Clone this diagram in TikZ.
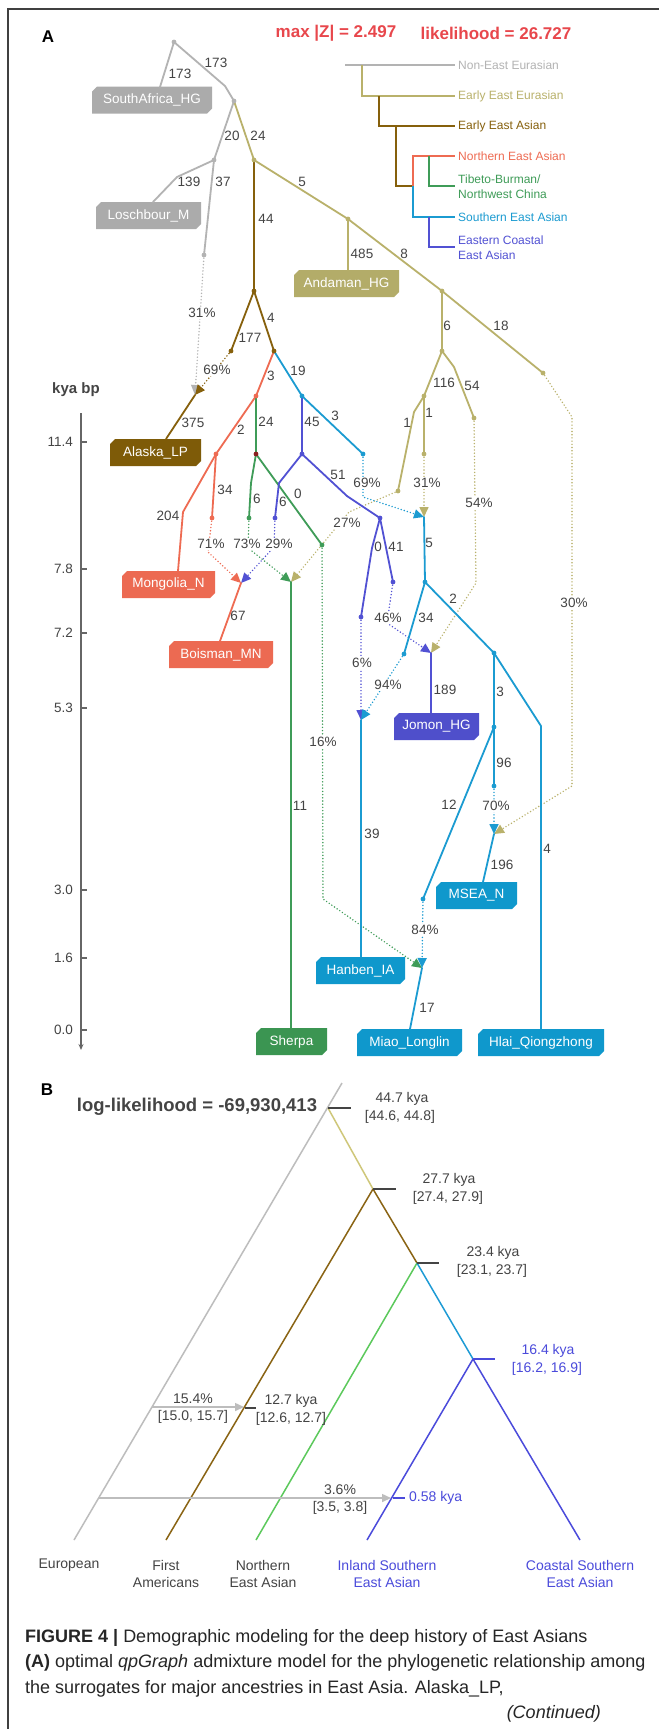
\documentclass[tikz,border=0pt]{standalone}
\usepackage{fontspec}
\setmainfont{Liberation Sans}
\usetikzlibrary{arrows.meta,calc}
\definecolor{cgray}{HTML}{B3B3B3}
\definecolor{ckhaki}{HTML}{B9B16B}
\definecolor{cbrown}{HTML}{86600C}
\definecolor{cred}{HTML}{EE6B52}
\definecolor{cgreen}{HTML}{3F9C58}
\definecolor{ccyan}{HTML}{1B9BD1}
\definecolor{cindigo}{HTML}{5151D3}
\definecolor{cdark}{HTML}{8B2020}
\definecolor{bgray}{HTML}{ABABAB}
\definecolor{bkhaki}{HTML}{B3AC69}
\definecolor{bbrown}{HTML}{7E5B08}
\definecolor{bred}{HTML}{EC6A52}
\definecolor{bgreen}{HTML}{3B9552}
\definecolor{bcyan}{HTML}{0F98CC}
\definecolor{bindigo}{HTML}{4F4FCB}
\definecolor{txt}{HTML}{444444}
\definecolor{hred}{HTML}{E8474C}
\definecolor{Bgray}{HTML}{BDBDBD}
\definecolor{Bkhaki}{HTML}{CFC77A}
\definecolor{Bbrown}{HTML}{8A6414}
\definecolor{Bgreen}{HTML}{5CC95C}
\definecolor{Bcyan}{HTML}{1E9BD5}
\definecolor{Bindigo}{HTML}{4B4BDB}
\newcommand\popbox[6]{%
  \fill[#5] ({#2-#4/2+5},{#3-13.5}) -- ({#2+#4/2},{#3-13.5}) -- ({#2+#4/2},{#3+8.5}) -- ({#2+#4/2-5},{#3+13.5}) -- ({#2-#4/2},{#3+13.5}) -- ({#2-#4/2},{#3-8.5}) -- cycle;
  \node[boxtxt, minimum width=#4pt] (#1) at (#2,#3) {#6};}
\begin{document}
\begin{tikzpicture}[x=1pt,y=-1pt,
  edg/.style={line width=1.8pt, line join=round, line cap=round},
  adm/.style={draw=#1, line width=1.6pt, line cap=round, dash pattern=on 0pt off 3.2pt, -{Triangle[length=10pt,width=9pt]}},
  wl/.style={font=\fontsize{13.5}{15}\selectfont, text=txt, inner sep=0pt},
  pl/.style={wl, fill=white, inner sep=1pt},
  boxtxt/.style={rectangle, inner sep=0pt, minimum height=27pt, text=white, font=\fontsize{13.5}{15}\selectfont},
  lgl/.style={line width=1.5pt},
  lgt/.style={anchor=west, inner sep=0pt, font=\fontsize{12}{15}\selectfont, align=left},
  axisline/.style={line width=1.2pt, draw=black!60},
  bl/.style={line width=1.5pt},
  tickline/.style={line width=1.3pt, draw=txt},
  bt/.style={font=\fontsize{14}{17}\selectfont, text=txt, inner sep=0pt, align=center},
  barr/.style={draw=Bgray, line width=1.5pt, -{Triangle[length=9pt,width=8pt]}},
  captext/.style={font=\fontsize{18}{22}\selectfont, text=black!85, inner sep=0pt}
]
\fill[white] (0,0) rectangle (659,1729);
\useasboundingbox (0,0) rectangle (659,1729);
\draw[line width=1.3pt, black!75] (8,1729) -- (8,9) -- (659,9);

% ---------------- Panel A header ----------------
\node[font=\fontsize{17}{17}\selectfont\bfseries, inner sep=0pt] (lA) at (48,37) {A};
\node[font=\fontsize{17}{17}\selectfont\bfseries, text=hred, inner sep=0pt] (hz) at (336,33) {max |Z| = 2.497};
\node[font=\fontsize{17}{17}\selectfont\bfseries, text=hred, inner sep=0pt] (hl) at (496,33) {likelihood = 26.727};

% legend
\draw[lgl, cgray] (345,65) -- (455,65);
\draw[lgl, ckhaki] (362,65) -- (362,96) -- (455,96);
\draw[lgl, cbrown] (379,96) -- (379,126) -- (455,126);
\draw[lgl, cbrown] (396,126) -- (396,186) -- (413,186);
\draw[lgl, cred] (413,186) -- (413,156) -- (455,156);
\draw[lgl, cgreen] (429,156) -- (429,186) -- (455,186);
\draw[lgl, ccyan] (413,186) -- (413,217) -- (455,217);
\draw[lgl, cindigo] (429,217) -- (429,247) -- (455,247);
\node[lgt, text=cgray] (lg1) at (458,65) {Non-East Eurasian};
\node[lgt, text=ckhaki] (lg2) at (458,96) {Early East Eurasian};
\node[lgt, text=cbrown] (lg3) at (458,126) {Early East Asian};
\node[lgt, text=cred] (lg4) at (458,156) {Northern East Asian};
\node[lgt, text=cgreen] (lg5) at (458,186.5) {Tibeto-Burman/\\Northwest China};
\node[lgt, text=ccyan] (lg6) at (458,217) {Southern East Asian};
\node[lgt, text=cindigo] (lg7) at (458,247.5) {Eastern Coastal\\East Asian};

% axis
\node[font=\fontsize{15}{15}\selectfont\bfseries, text=txt, inner sep=0pt] (kya) at (76,390) {kya bp};
\draw[axisline, -{Stealth[length=6pt,width=5pt]}] (81,413) -- (81,1050);
\foreach \y/\l in {442/11.4, 569/7.8, 633/7.2, 708/5.3, 890/3.0, 958/1.6, 1030/0.0}{
  \draw[axisline] (81,\y) -- (87,\y);
  \node[wl, anchor=east] (t\y) at (73,\y) {\l};}

% ---------------- coordinates ----------------
\coordinate (r0) at (174,42);
\coordinate (SAt) at (160,87);
\coordinate (gb1) at (225,86);
\coordinate (g1) at (234,101);
\coordinate (g2) at (214,160);
\coordinate (gb2) at (177,177);
\coordinate (LMt) at (153,202);
\coordinate (g3) at (204,255);
\coordinate (k1) at (254,160);
\coordinate (kA) at (348,219);
\coordinate (ANt) at (348,270);
\coordinate (k2) at (442,291);
\coordinate (k3) at (442,351);
\coordinate (k4) at (543,373);
\coordinate (k5) at (424,396);
\coordinate (kb6) at (454,367);
\coordinate (k6) at (474,418);
\coordinate (kb7) at (414,412);
\coordinate (k7) at (398,491);
\coordinate (k8) at (424,454);
\coordinate (b1) at (254,291);
\coordinate (b2) at (231,351);
\coordinate (b3) at (274,351);
\coordinate (aA) at (195,395);
\coordinate (ALt) at (166,439);
\coordinate (r1) at (256,396);
\coordinate (r2) at (216,454);
\coordinate (rb) at (183,512);
\coordinate (MNt) at (178,571);
\coordinate (r3) at (212,518);
\coordinate (aB) at (241,583);
\coordinate (BMt) at (220,641);
\coordinate (n1) at (256,454);
\coordinate (nb2) at (251,483);
\coordinate (n2) at (249,518);
\coordinate (n3) at (322,545);
\coordinate (aS) at (291,582);
\coordinate (SHt) at (291,1028);
\coordinate (c1) at (302,396);
\coordinate (c2) at (363,454);
\coordinate (cA) at (424,517);
\coordinate (c3) at (425,582);
\coordinate (c4) at (404,654);
\coordinate (c5) at (494,653);
\coordinate (aH) at (361,720);
\coordinate (HIt) at (361,957);
\coordinate (c6) at (494,727);
\coordinate (cb) at (541,726);
\coordinate (HQt) at (541,1029);
\coordinate (c7) at (494,786);
\coordinate (c8) at (423,899);
\coordinate (aMS) at (494,834);
\coordinate (MSt) at (483,882);
\coordinate (aM) at (422,968);
\coordinate (MLt) at (410,1029);
\coordinate (i1) at (302,454);
\coordinate (ib2) at (279,483);
\coordinate (i2) at (275,518);
\coordinate (ib3) at (347,496);
\coordinate (i3) at (380,518);
\coordinate (ib4) at (372,548);
\coordinate (i4) at (361,617);
\coordinate (i5) at (393,582);
\coordinate (aJ) at (431,653);
\coordinate (JHt) at (431,713);

% ---------------- boxes ----------------
\popbox{SA}{152}{100}{120}{bgray}{SouthAfrica\_HG}
\popbox{LM}{148.5}{215.5}{105}{bgray}{Loschbour\_M}
\popbox{AN}{346.5}{283.5}{105}{bkhaki}{Andaman\_HG}
\popbox{AL}{155.5}{452.5}{91}{bbrown}{Alaska\_LP}
\popbox{MN}{168.5}{584.5}{93}{bred}{Mongolia\_N}
\popbox{BM}{221}{654.5}{104}{bred}{Boisman\_MN}
\popbox{JH}{436.5}{726.5}{85}{bindigo}{Jomon\_HG}
\popbox{MS}{476.5}{895.5}{81}{bcyan}{MSEA\_N}
\popbox{HI}{360.5}{970.5}{89}{bcyan}{Hanben\_IA}
\popbox{SH}{291.5}{1041.5}{71}{bgreen}{Sherpa}
\popbox{ML}{409.5}{1042.5}{105}{bcyan}{Miao\_Longlin}
\popbox{HQ}{541}{1042.5}{126}{bcyan}{Hlai\_Qiongzhong}

% ---------------- admixture (dotted) ----------------
\draw[adm=cgray] (g3) -- (aA);
\draw[adm=cbrown] (b2) -- (aA);
\draw[adm=cred] (r3) -- (208,552) -- (aB);
\draw[adm=cindigo] (i2) -- (274,547) -- (aB);
\draw[adm=cgreen] (n2) -- (248,548) -- (aS);
\draw[adm=ckhaki] (k7) -- (349,512) -- (aS);
\draw[adm=cgreen] (n3) -- (323,899) -- (aM);
\draw[adm=ccyan] (c2) -- (363,497) -- (cA);
\draw[adm=ckhaki] (k8) -- (cA);
\draw[adm=ckhaki] (k6) -- (476,583) -- (aJ);
\draw[adm=cindigo] (i5) -- (387,623) -- (aJ);
\draw[adm=cindigo] (i4) -- (aH);
\draw[adm=ccyan] (c4) -- (aH);
\draw[adm=ckhaki] (k4) -- (572,417) -- (572,786) -- (aMS);
\draw[adm=ccyan] (c7) -- (aMS);
\draw[adm=ccyan] (c8) -- (aM);

% ---------------- solid edges ----------------
\draw[edg, cgray] (r0) -- (SAt);
\draw[edg, cgray] (r0) -- (gb1) -- (g1);
\draw[edg, cgray] (g1) -- (g2);
\draw[edg, cgray] (g2) -- (gb2) -- (LMt);
\draw[edg, cgray] (g2) -- (g3);
\draw[edg, ckhaki] (g1) -- (k1);
\draw[edg, ckhaki] (k1) -- (kA);
\draw[edg, ckhaki] (kA) -- (ANt);
\draw[edg, ckhaki] (kA) -- (k2);
\draw[edg, ckhaki] (k2) -- (k3);
\draw[edg, ckhaki] (k2) -- (k4);
\draw[edg, ckhaki] (k3) -- (k5);
\draw[edg, ckhaki] (k3) -- (kb6) -- (k6);
\draw[edg, ckhaki] (k5) -- (kb7) -- (k7);
\draw[edg, ckhaki] (k5) -- (k8);
\draw[edg, cbrown] (k1) -- (b1);
\draw[edg, cbrown] (b1) -- (b2);
\draw[edg, cbrown] (b1) -- (b3);
\draw[edg, cbrown] (aA) -- (ALt);
\draw[edg, cred] (b3) -- (r1);
\draw[edg, cred] (r1) -- (r2);
\draw[edg, cred] (r2) -- (rb) -- (MNt);
\draw[edg, cred] (r2) -- (r3);
\draw[edg, cred] (aB) -- (BMt);
\draw[edg, cgreen] (r1) -- (n1);
\draw[edg, cgreen] (n1) -- (nb2) -- (n2);
\draw[edg, cgreen] (n1) -- (n3);
\draw[edg, cgreen] (aS) -- (SHt);
\draw[edg, ccyan] (b3) -- (c1);
\draw[edg, ccyan] (c1) -- (c2);
\draw[edg, ccyan] (cA) -- (c3);
\draw[edg, ccyan] (c3) -- (c4);
\draw[edg, ccyan] (c3) -- (c5);
\draw[edg, ccyan] (aH) -- (HIt);
\draw[edg, ccyan] (c5) -- (c6);
\draw[edg, ccyan] (c5) -- (cb) -- (HQt);
\draw[edg, ccyan] (c6) -- (c7);
\draw[edg, ccyan] (c6) -- (c8);
\draw[edg, ccyan] (aMS) -- (MSt);
\draw[edg, ccyan] (aM) -- (MLt);
\draw[edg, cindigo] (c1) -- (i1);
\draw[edg, cindigo] (i1) -- (ib2) -- (i2);
\draw[edg, cindigo] (i1) -- (ib3) -- (i3);
\draw[edg, cindigo] (i3) -- (ib4) -- (i4);
\draw[edg, cindigo] (i3) -- (i5);
\draw[edg, cindigo] (aJ) -- (JHt);

% dots
\foreach \p in {r0,g1,g2,g3} \fill[cgray] (\p) circle (2.4pt);
\foreach \p in {k1,kA,k2,k3,k4,k5,k6,k7,k8} \fill[ckhaki] (\p) circle (2.4pt);
\foreach \p in {b1,b2,b3} \fill[cbrown] (\p) circle (2.4pt);
\foreach \p in {r1,r2,r3} \fill[cred] (\p) circle (2.4pt);
\fill[cdark] (n1) circle (2.4pt);
\foreach \p in {n2,n3} \fill[cgreen] (\p) circle (2.4pt);
\foreach \p in {c1,c2,c3,c4,c5,c6,c7,c8} \fill[ccyan] (\p) circle (2.4pt);
\foreach \p in {i1,i2,i3,i4,i5} \fill[cindigo] (\p) circle (2.4pt);

% ---------------- weights ----------------
\node[wl] (w1) at (180,74) {173};
\node[wl] (w2) at (216,63) {173};
\node[wl] (w3) at (232,136) {20};
\node[wl] (w4) at (258,136) {24};
\node[wl] (w5) at (189,182) {139};
\node[wl] (w6) at (223,182) {37};
\node[wl] (w7) at (302,182) {5};
\node[wl] (w8) at (362,254) {485};
\node[wl] (w9) at (404,254) {8};
\node[wl] (w10) at (447,326) {6};
\node[wl] (w11) at (501,326) {18};
\node[wl] (w12) at (444,383) {116};
\node[wl] (w13) at (472,386) {54};
\node[wl] (w14) at (407,423) {1};
\node[wl] (w15) at (429,413) {1};
\node[wl] (w16) at (266,219) {44};
\node[wl] (w17) at (250,338) {177};
\node[wl] (w18) at (271,318) {4};
\node[wl] (w19) at (193,423) {375};
\node[wl] (w20) at (271,376) {3};
\node[wl] (w21) at (241,430) {2};
\node[wl] (w22) at (168,516) {204};
\node[wl] (w23) at (225,490) {34};
\node[wl] (w24) at (238,616) {67};
\node[wl] (w25) at (266,422) {24};
\node[wl] (w26) at (257,499) {6};
\node[wl] (w27) at (298,494) {0};
\node[wl] (w28) at (300,806) {11};
\node[wl] (w29) at (298,371) {19};
\node[wl] (w30) at (335,416) {3};
\node[wl] (w31) at (429,543) {5};
\node[wl] (w32) at (426,618) {34};
\node[wl] (w33) at (453,599) {2};
\node[wl] (w34) at (372,834) {39};
\node[wl] (w35) at (500,692) {3};
\node[wl] (w36) at (547,849) {4};
\node[wl] (w37) at (504,763) {96};
\node[wl] (w38) at (449,805) {12};
\node[wl] (w39) at (502,865) {196};
\node[wl] (w40) at (427,1008) {17};
\node[wl] (w41) at (312,422) {45};
\node[wl] (w42) at (283,502) {6};
\node[wl] (w43) at (338,475) {51};
\node[wl] (w44) at (378,547) {0};
\node[wl] (w45) at (396,547) {41};
\node[wl] (w46) at (445,690) {189};
% percentages
\node[pl] (p1) at (202,313) {31\%};
\node[pl] (p2) at (427,483) {31\%};
\node[pl] (p3) at (479,503) {54\%};
\node[pl] (p4) at (574,603) {30\%};
\node[pl] (p5) at (347,523) {27\%};
\node[pl] (p6) at (217,370) {69\%};
\node[pl] (p7) at (211,544) {71\%};
\node[pl] (p8) at (247,544) {73\%};
\node[pl] (p9) at (323,742) {16\%};
\node[pl] (p10) at (367,483) {69\%};
\node[pl] (p11) at (388,685) {94\%};
\node[pl] (p12) at (496,806) {70\%};
\node[pl] (p13) at (425,930) {84\%};
\node[pl] (p14) at (279,544) {29\%};
\node[pl] (p15) at (362,663) {6\%};
\node[pl] (p16) at (388,618) {46\%};

% ---------------- Panel B ----------------
\node[font=\fontsize{17}{17}\selectfont\bfseries, inner sep=0pt] (lB) at (47,1090) {B};
\node[font=\fontsize{18.5}{18.5}\selectfont\bfseries, text=txt, inner sep=0pt] (ll) at (197,1107) {log-likelihood = -69,930,413};
\coordinate (Btop) at (342,1083);
\coordinate (B0) at (328,1108);
\coordinate (B1) at (373,1189);
\coordinate (B2) at (417,1263);
\coordinate (B3) at (473,1359);
\coordinate (Eu) at (74,1540);
\coordinate (FA) at (166,1540);
\coordinate (NEA) at (256,1540);
\coordinate (ISE) at (367,1540);
\coordinate (CSE) at (580,1540);
\draw[bl, Bgray] (Btop) -- (Eu);
\draw[bl, Bkhaki] (B0) -- (B1);
\draw[bl, Bbrown] (B1) -- (FA);
\draw[bl, Bbrown] (B1) -- (B2);
\draw[bl, Bgreen] (B2) -- (NEA);
\draw[bl, Bcyan] (B2) -- (B3);
\draw[bl, Bindigo] (B3) -- (ISE);
\draw[bl, Bindigo] (B3) -- (CSE);
\draw[tickline] (B0) -- ++(23,0);
\draw[tickline] (B1) -- ++(23,0);
\draw[tickline] (B2) -- ++(22,0);
\draw[tickline, draw=Bindigo] (B3) -- ++(22,0);
\coordinate (m1s) at (152,1407);
\coordinate (m1e) at (244,1407);
\coordinate (m2s) at (99,1498);
\coordinate (m2e) at (391,1498);
\draw[barr] (m1s) -- (m1e);
\draw[barr] (m2s) -- (m2e);
\draw[tickline] (245,1408) -- (256,1408);
\draw[tickline, draw=Bindigo] (393,1498) -- (405,1498);
\node[bt] (d1) at (402,1099) {44.7 kya};
\node[bt] (d1b) at (400,1117) {[44.6, 44.8]};
\node[bt] (d2) at (449,1180) {27.7 kya};
\node[bt] (d2b) at (448,1198) {[27.4, 27.9]};
\node[bt] (d3) at (493,1253) {23.4 kya};
\node[bt] (d3b) at (492,1271) {[23.1, 23.7]};
\node[bt, text=Bindigo] (d4) at (548,1351) {16.4 kya};
\node[bt, text=Bindigo] (d4b) at (547,1369) {[16.2, 16.9]};
\node[bt] (d5) at (291,1401) {12.7 kya};
\node[bt] (d5b) at (291,1419) {[12.6, 12.7]};
\node[bt] (m1a) at (193,1399) {15.4\%};
\node[bt] (m1b) at (193,1417) {[15.0, 15.7]};
\node[bt] (m2a) at (340,1490) {3.6\%};
\node[bt] (m2b) at (340,1508) {[3.5, 3.8]};
\node[bt, text=Bindigo, anchor=west] (d6) at (409,1498) {0.58 kya};
\node[bt] (e1) at (69,1565) {European};
\node[bt] (e2) at (166,1574) {First\\Americans};
\node[bt] (e3) at (263,1574) {Northern\\East Asian};
\node[bt, text=Bindigo] (e4) at (387,1574) {Inland Southern\\East Asian};
\node[bt, text=Bindigo] (e5) at (580,1574) {Coastal Southern\\East Asian};

% ---------------- caption ----------------
\node[captext, anchor=west] (cap1) at (25,1638) {\textbf{FIGURE 4 |} Demographic modeling for the deep history of East Asians};
\node[captext, anchor=west] (cap2) at (25,1663) {\textbf{(A)} optimal \textit{qpGraph} admixture model for the phylogenetic relationship among};
\node[captext, anchor=west] (cap3) at (25,1689) {the surrogates for major ancestries in East Asia. Alaska\_LP,};
\node[captext, anchor=east] (cap4) at (601,1714) {\textit{(Continued)}};
\end{tikzpicture}
\end{document}
